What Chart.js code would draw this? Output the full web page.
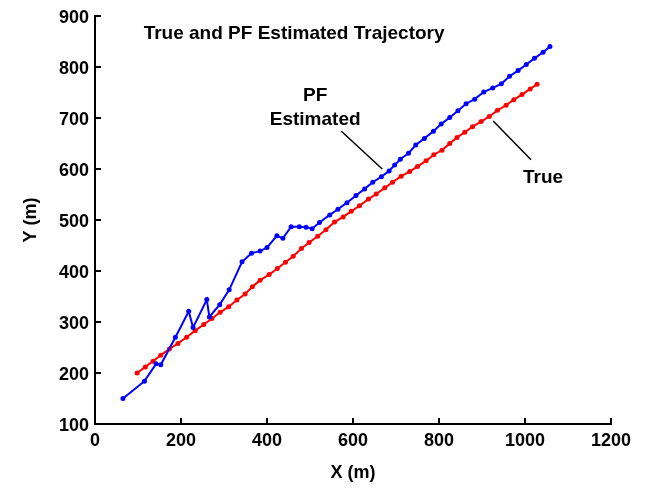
<!DOCTYPE html>
<html>
<head>
<meta charset="utf-8">
<script src="https://cdn.jsdelivr.net/npm/chart.js@4"></script>
<style>
  html, body { margin: 0; padding: 0; background: #fff; }
  #wrap { width: 657px; height: 492px; }
</style>
</head>
<body>
<div id="wrap"><canvas id="chart" width="657" height="492"></canvas></div>
<script>
// true trajectory
const trueX = [98, 117, 135, 153, 173, 193, 213, 233, 253, 272, 291, 311, 330, 349, 366, 384, 405, 424, 443, 461,
  480, 498, 518, 537, 557, 577, 596, 615, 636, 654, 674, 692, 712, 732, 750, 770, 788, 807, 825, 842,
  860, 878, 898, 917, 936, 956, 974, 993, 1012, 1028];
const trueY = [200, 212, 223, 235, 247, 258, 270, 283, 295, 307, 319, 330, 343, 355, 369, 382, 393, 405, 417, 429,
  444, 456, 468, 481, 496, 506, 517, 528, 541, 551, 563, 574, 586, 595, 605, 616, 628, 637, 650, 662,
  672, 683, 693, 703, 715, 725, 736, 746, 757, 766];

// PF estimate
const pfX = [65, 115, 142, 153, 187, 218, 228, 260, 266, 290, 312, 342, 364, 384, 400, 423, 437, 456, 475, 491,
  505, 522, 546, 565, 586, 607, 627, 646, 666, 684, 697, 710, 729, 746, 766, 787, 805, 825, 844, 863,
  883, 904, 925, 945, 964, 984, 1003, 1022, 1042, 1058];
const pfY = [150, 184, 218, 216, 270, 321, 289, 344, 310, 334, 363, 418, 435, 439, 446, 469, 464, 487, 487, 486,
  483, 495, 510, 521, 534, 548, 561, 574, 585, 596, 608, 619, 631, 647, 660, 674, 688, 701, 714, 728,
  737, 751, 759, 767, 782, 793, 805, 817, 829, 840];

const xTicks = [0, 200, 400, 600, 800, 1000, 1200];
const yTicks = [100, 200, 300, 400, 500, 600, 700, 800, 900];

const FONT = '"Liberation Sans", Arial, sans-serif';

function toPoints(xs, ys) {
  return xs.map((x, i) => ({ x: x, y: ys[i] }));
}

// labels and pointer lines, in data units
const notes = [
  { text: 'True and PF Estimated Trajectory', x: 463, y: 866 },
  { text: 'PF', x: 512, y: 743 },
  { text: 'Estimated', x: 512, y: 697 },
  { text: 'True', x: 1042, y: 582 }
];
const pointers = [
  [573, 674, 668, 600],
  [926, 694, 1014, 618]
];

const extras = {
  id: 'extras',
  afterDraw(chart) {
    const ctx = chart.ctx;
    const sx = chart.scales.x, sy = chart.scales.y;
    ctx.save();
    // inward ticks
    ctx.strokeStyle = '#000';
    ctx.lineWidth = 2;
    const y0 = sy.getPixelForValue(100);
    const x0 = sx.getPixelForValue(0);
    ctx.beginPath();
    for (const v of xTicks) {
      const px = sx.getPixelForValue(v);
      ctx.moveTo(px, y0);
      ctx.lineTo(px, y0 - 6);
    }
    for (const v of yTicks) {
      const py = sy.getPixelForValue(v);
      ctx.moveTo(x0, py);
      ctx.lineTo(x0 + 6, py);
    }
    ctx.stroke();

    ctx.lineWidth = 1.5;
    ctx.beginPath();
    for (const p of pointers) {
      ctx.moveTo(sx.getPixelForValue(p[0]), sy.getPixelForValue(p[1]));
      ctx.lineTo(sx.getPixelForValue(p[2]), sy.getPixelForValue(p[3]));
    }
    ctx.stroke();

    ctx.fillStyle = '#000';
    ctx.font = 'bold 19px ' + FONT;
    ctx.textAlign = 'center';
    ctx.textBaseline = 'middle';
    for (const n of notes) {
      ctx.fillText(n.text, sx.getPixelForValue(n.x), sy.getPixelForValue(n.y));
    }
    ctx.restore();
  }
};

new Chart(document.getElementById('chart'), {
  type: 'scatter',
  data: {
    datasets: [
      {
        label: 'PF Estimated',
        data: toPoints(pfX, pfY),
        showLine: true,
        borderColor: '#0000ff',
        backgroundColor: '#0000ff',
        borderWidth: 2,
        pointRadius: 2.5,
        pointBorderWidth: 0
      },
      {
        label: 'True',
        data: toPoints(trueX, trueY),
        showLine: true,
        borderColor: '#ff0000',
        backgroundColor: '#ff0000',
        borderWidth: 2,
        pointRadius: 2.5,
        pointBorderWidth: 0
      }
    ]
  },
  options: {
    responsive: false,
    animation: false,
    layout: { padding: { top: 16, right: 46, left: 0, bottom: 0 } },
    plugins: {
      legend: { display: false },
      tooltip: { enabled: false }
    },
    scales: {
      x: {
        type: 'linear',
        min: 0,
        max: 1200,
        afterBuildTicks: s => { s.ticks = xTicks.map(v => ({ value: v })); },
        afterFit: s => { s.height = 68; },
        grid: { display: false, tickLength: 6 },
        border: { display: true, color: '#000', width: 2 },
        ticks: { color: '#000', font: { family: FONT, size: 18, weight: 'bold' }, padding: 0, maxRotation: 0, callback: v => String(v) },
        title: { display: true, text: 'X (m)', color: '#000', font: { family: FONT, size: 18, weight: 'bold' }, padding: { top: 0, bottom: 8 } }
      },
      y: {
        type: 'linear',
        min: 100,
        max: 900,
        afterBuildTicks: s => { s.ticks = yTicks.map(v => ({ value: v })); },
        afterFit: s => { s.width = 95; },
        grid: { display: false, tickLength: 6 },
        border: { display: true, color: '#000', width: 2 },
        ticks: { color: '#000', font: { family: FONT, size: 18, weight: 'bold' }, padding: 0, labelOffset: 2, callback: v => String(v) },
        title: { display: true, text: 'Y (m)', color: '#000', font: { family: FONT, size: 18, weight: 'bold' }, padding: { top: 20, bottom: 0 } }
      }
    }
  },
  plugins: [extras]
});
</script>
</body>
</html>
